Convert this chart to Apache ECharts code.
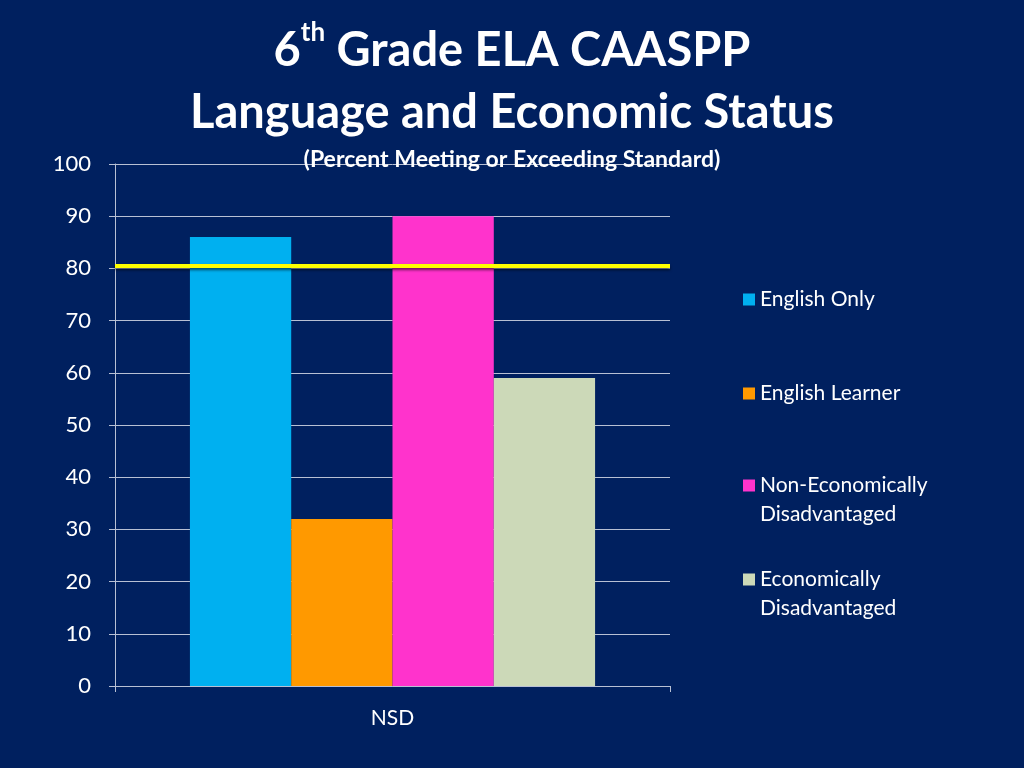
<!DOCTYPE html>
<html>
<head>
<meta charset="utf-8">
<script src="https://cdn.jsdelivr.net/npm/echarts@6/dist/echarts.min.js"></script>
<style>
  html, body { margin: 0; padding: 0; background: #00205f; }
  #chart { width: 1024px; height: 768px; }
</style>
</head>
<body>
<div id="chart"></div>
<script>
// data
const categories = ['NSD']
const seriesNames = ['English Only', 'English Learner', 'Non-Economically\nDisadvantaged', 'Economically\nDisadvantaged']
const englishOnly = [86]
const englishLearner = [32]
const nonEconDisadv = [90]
const econDisadv = [59]
const targetLine = 80.5
const yTicks = { min: 0, max: 100, interval: 10 }

const colors = ['#00b0f0', '#ff9900', '#ff33cc', '#ccd9b8']
const font = 'Lato, "Open Sans", sans-serif'

const myChart = echarts.init(document.getElementById('chart'))

// one legend per entry so they can be spaced like the slide
// two-line names get an empty first line so the square sits beside the first real line
const legendTops = [280, 374, 437, 531]
const legends = seriesNames.map((name, i) => ({
  data: [name],
  left: 738,
  top: legendTops[i],
  itemWidth: 12,
  itemHeight: 12,
  icon: 'rect',
  selectedMode: false,
  formatter: (n) => (n.indexOf('\n') >= 0 ? '\n' + n : n),
  textStyle: {
    color: '#ffffff',
    fontFamily: font,
    fontSize: 21,
    lineHeight: 29
  }
}))

const bar = (name, data, color, extra) => Object.assign({
  name: name,
  type: 'bar',
  data: data,
  itemStyle: { color: color },
  barGap: '0%',
  barCategoryGap: '27%'
}, extra || {})

const option = {
  backgroundColor: '#00205f',
  title: [
    {
      text: '{n|6}{s|th}{n| Grade ELA CAASPP}\n{n|Language and Economic Status}',
      left: 'center',
      top: 15,
      textStyle: {
        rich: {
          n: { color: '#ffffff', fontFamily: font, fontWeight: 'bold', fontSize: 47, lineHeight: 62 },
          s: { color: '#ffffff', fontFamily: font, fontWeight: 'bold', fontSize: 26, lineHeight: 62, verticalAlign: 'top', padding: [0, 0, 24, 0] }
        }
      }
    },
    {
      text: '(Percent Meeting or Exceeding Standard)',
      left: 'center',
      top: 143,
      textStyle: {
        color: '#ffffff',
        fontFamily: font,
        fontWeight: 'bold',
        fontSize: 23,
        textDecoration: 'underline'
      }
    }
  ],
  legend: legends,
  grid: { left: 115, right: 354, top: 164, bottom: 82 },
  xAxis: {
    type: 'category',
    data: categories,
    axisLine: { lineStyle: { color: '#b8c0d4', width: 1 } },
    axisTick: { show: true, length: 6, lineStyle: { color: '#b8c0d4' } },
    axisLabel: { color: '#ffffff', fontFamily: font, fontSize: 21, margin: 22 }
  },
  yAxis: {
    type: 'value',
    min: yTicks.min,
    max: yTicks.max,
    interval: yTicks.interval,
    axisLine: { show: true, lineStyle: { color: '#b8c0d4', width: 1 } },
    axisTick: { show: true, length: 6, lineStyle: { color: '#b8c0d4' } },
    splitLine: { lineStyle: { color: '#b8c0d4', width: 1 } },
    axisLabel: { color: '#ffffff', fontFamily: font, fontSize: 22, margin: 24 }
  },
  series: [
    bar(seriesNames[0], englishOnly, colors[0], {
      markLine: {
        silent: true,
        symbol: 'none',
        label: { show: false },
        lineStyle: {
          color: '#ffff00',
          width: 4,
          type: 'solid',
          shadowColor: 'rgba(0,0,0,0.6)',
          shadowBlur: 3,
          shadowOffsetY: 2
        },
        data: [{ yAxis: targetLine }]
      }
    }),
    bar(seriesNames[1], englishLearner, colors[1]),
    bar(seriesNames[2], nonEconDisadv, colors[2]),
    bar(seriesNames[3], econDisadv, colors[3])
  ]
}

myChart.setOption(option)
</script>
</body>
</html>
